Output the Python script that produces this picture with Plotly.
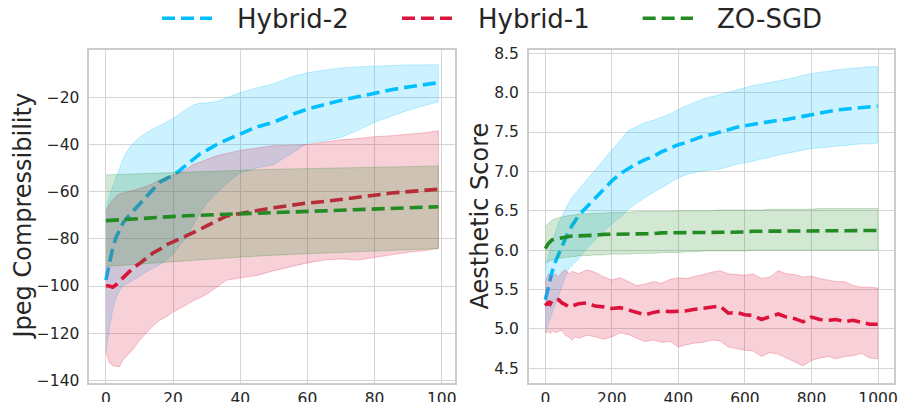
import plotly.graph_objects as go

# ---------------- data: left panel (Jpeg Compressibility) ----------------
x_left = [0, 1, 2, 3, 4, 5, 6, 8, 10, 12, 14, 16, 18, 20, 22, 24, 26, 28, 30, 33, 36, 40,
          45, 50, 55, 60, 65, 70, 75, 80, 85, 90, 95, 99]

h2_mean_l = [-97.5, -91, -84, -79.5, -76, -73.5, -71.5, -68.5, -65.5, -62, -59, -56, -54.5, -53,
             -51, -48.5, -46, -44, -42.5, -40, -38, -35.5, -32.5, -30.5, -27.5, -25, -23, -21.3,
             -19.8, -18.2, -16.8, -15.6, -14.6, -13.8]
h2_up_l = [-68, -62, -58, -54, -50, -46.5, -43.5, -39.5, -37, -35, -33.5, -32, -30.3, -29, -27,
           -25.2, -23.3, -22.4, -22.4, -21.8, -20.3, -18, -16, -14.2, -11.5, -9.6, -8.5, -7.6,
           -7.1, -6.7, -6.5, -6.3, -6.2, -6.2]
h2_lo_l = [-128, -118, -110, -105, -102, -100, -99, -97.5, -96, -94, -92.5, -91, -89, -86.5,
           -82.5, -79.5, -74, -69, -65, -60.5, -56.5, -52, -50, -48.5, -44, -39.5, -38.5, -37,
           -34, -30.6, -28, -25.5, -23.5, -21.9]

h1_mean_l = [-99.9, -100, -100.5, -99.5, -98, -96.5, -95, -92.5, -90.5, -88, -86, -84.5, -82.5,
             -81.3, -80, -79, -77.5, -76, -74.5, -72.3, -70.3, -69.3, -68, -66.8, -65.8, -64.8,
             -64.2, -63.3, -62.5, -61.4, -60.6, -60, -59.5, -59]
h1_up_l = [-69.2, -65.6, -63.5, -62, -61, -60.5, -60.2, -59.5, -58.7, -57.8, -56.5, -55, -53.8,
           -53, -52, -50.5, -48.5, -47.5, -46.5, -44.8, -43.8, -42.5, -41.5, -40.5, -40.4, -40,
           -39, -38, -37.5, -36.7, -36.3, -35.8, -35, -34.2]
h1_lo_l = [-127.9, -132.5, -133.8, -134, -134.2, -131.5, -130, -127, -123, -119.8, -117, -114.5,
           -113, -111, -109.5, -108, -106.3, -105, -103.5, -100.5, -97.5, -96.5, -95.5, -93.5,
           -91.8, -90.2, -89, -88.5, -89, -88, -86.8, -85.7, -85, -84.1]

zo_mean_l = [-72.3, -72.2, -72.1, -72, -71.9, -71.8, -71.7, -71.5, -71.3, -71.1, -71, -70.8,
             -70.7, -70.5, -70.4, -70.2, -70.1, -70, -69.9, -69.7, -69.5, -69.3, -69, -68.8,
             -68.5, -68.2, -67.9, -67.6, -67.4, -67.1, -66.9, -66.7, -66.5, -66.4]
zo_up_l = [-52.9, -52.8, -52.8, -52.7, -52.7, -52.6, -52.6, -52.5, -52.4, -52.3, -52.2, -52.1,
           -52, -51.9, -51.8, -51.7, -51.6, -51.5, -51.4, -51.2, -51.1, -50.9, -50.7, -50.5,
           -50.4, -50.2, -50.1, -50, -49.8, -49.7, -49.5, -49.4, -49.2, -49.1]
zo_lo_l = [-91.7, -91.6, -91.5, -91.4, -91.3, -91.2, -91.1, -90.9, -90.7, -90.5, -90.3, -90.1,
           -89.9, -89.7, -89.5, -89.3, -89.1, -88.9, -88.7, -88.4, -88.1, -87.7, -87.3, -86.9,
           -86.6, -86.3, -86, -85.7, -85.4, -85.1, -84.8, -84.5, -84.3, -84.1]

# ---------------- data: right panel (Aesthetic Score) ----------------
x_right = [0, 5, 10, 15, 20, 30, 40, 50, 60, 70, 80, 90, 100, 125, 150, 175, 200, 225, 250, 275,
           300, 325, 350, 375, 400, 425, 450, 475, 500, 525, 550, 575, 600, 625, 650, 675, 700,
           725, 750, 775, 800, 825, 850, 875, 900, 925, 950, 975, 999]

h2_mean_r = [5.37, 5.47, 5.56, 5.65, 5.72, 5.85, 5.95, 6.05, 6.14, 6.24, 6.31, 6.38, 6.44,
             6.55, 6.66, 6.78, 6.88, 6.97, 7.04, 7.10, 7.15, 7.19, 7.25, 7.30, 7.34, 7.37, 7.41,
             7.45, 7.47, 7.50, 7.54, 7.56, 7.58, 7.60, 7.62, 7.64, 7.65, 7.66, 7.68, 7.71, 7.73,
             7.74, 7.76, 7.78, 7.79, 7.80, 7.81, 7.82, 7.83]
h2_up_r = [5.75, 5.85, 5.95, 6.05, 6.12, 6.22, 6.35, 6.43, 6.52, 6.60, 6.67, 6.72, 6.78,
           6.90, 7.03, 7.15, 7.28, 7.40, 7.52, 7.57, 7.62, 7.65, 7.69, 7.73, 7.79, 7.84, 7.88,
           7.92, 7.95, 7.98, 8.01, 8.04, 8.07, 8.09, 8.11, 8.13, 8.15, 8.17, 8.19, 8.22, 8.24,
           8.26, 8.27, 8.29, 8.30, 8.31, 8.32, 8.33, 8.33]
h2_lo_r = [4.96, 5.02, 5.08, 5.14, 5.20, 5.32, 5.44, 5.55, 5.66, 5.76, 5.81, 5.85, 5.89,
           6.02, 6.13, 6.24, 6.33, 6.42, 6.52, 6.60, 6.67, 6.74, 6.80, 6.86, 6.92, 6.96, 6.99,
           7.01, 7.02, 7.03, 7.06, 7.09, 7.11, 7.13, 7.16, 7.18, 7.21, 7.23, 7.25, 7.27, 7.29,
           7.30, 7.31, 7.32, 7.33, 7.34, 7.35, 7.35, 7.36]

h1_mean_r = [5.33, 5.30, 5.35, 5.32, 5.36, 5.35, 5.37, 5.33, 5.31, 5.28, 5.29, 5.31, 5.32,
             5.33, 5.29, 5.28, 5.26, 5.27, 5.24, 5.22, 5.18, 5.21, 5.23, 5.22, 5.22, 5.23, 5.25,
             5.26, 5.27, 5.29, 5.20, 5.21, 5.18, 5.17, 5.12, 5.16, 5.19, 5.15, 5.13, 5.09, 5.15,
             5.12, 5.11, 5.12, 5.09, 5.11, 5.09, 5.06, 5.06]
h1_up_r = [5.60, 5.65, 5.70, 5.68, 5.66, 5.70, 5.66, 5.72, 5.75, 5.70, 5.73, 5.72, 5.70,
           5.75, 5.72, 5.66, 5.62, 5.65, 5.60, 5.55, 5.57, 5.60, 5.58, 5.63, 5.65, 5.64, 5.67,
           5.69, 5.72, 5.74, 5.70, 5.69, 5.68, 5.70, 5.64, 5.66, 5.74, 5.70, 5.69, 5.66, 5.67,
           5.64, 5.62, 5.60, 5.60, 5.55, 5.53, 5.53, 5.52]
h1_lo_r = [4.96, 4.95, 4.97, 4.94, 4.98, 4.95, 4.97, 4.98, 4.92, 4.90, 4.86, 4.90, 4.88,
           4.92, 4.90, 4.87, 4.90, 4.95, 4.93, 4.88, 4.84, 4.86, 4.83, 4.84, 4.77, 4.80, 4.82,
           4.83, 4.86, 4.85, 4.77, 4.75, 4.73, 4.72, 4.65, 4.70, 4.68, 4.62, 4.58, 4.53, 4.60,
           4.63, 4.65, 4.62, 4.65, 4.66, 4.69, 4.63, 4.62]

zo_mean_r = [6.02, 6.06, 6.09, 6.11, 6.13, 6.14, 6.15, 6.16, 6.17, 6.17, 6.18, 6.18, 6.18,
             6.19, 6.19, 6.20, 6.20, 6.20, 6.21, 6.21, 6.21, 6.21, 6.22, 6.22, 6.22, 6.22, 6.22,
             6.23, 6.23, 6.23, 6.23, 6.23, 6.23, 6.24, 6.24, 6.24, 6.24, 6.24, 6.24, 6.24, 6.25,
             6.25, 6.25, 6.25, 6.25, 6.25, 6.25, 6.25, 6.25]
zo_up_r = [6.30, 6.32, 6.34, 6.36, 6.38, 6.40, 6.41, 6.42, 6.43, 6.44, 6.44, 6.45, 6.46,
           6.46, 6.47, 6.47, 6.48, 6.48, 6.48, 6.49, 6.49, 6.49, 6.49, 6.49, 6.50, 6.50, 6.50,
           6.50, 6.50, 6.51, 6.51, 6.51, 6.51, 6.51, 6.51, 6.52, 6.52, 6.52, 6.52, 6.52, 6.52,
           6.53, 6.53, 6.53, 6.53, 6.53, 6.53, 6.53, 6.53]
zo_lo_r = [5.83, 5.85, 5.86, 5.87, 5.88, 5.89, 5.90, 5.90, 5.91, 5.91, 5.92, 5.92, 5.93,
           5.93, 5.94, 5.94, 5.95, 5.95, 5.95, 5.96, 5.96, 5.96, 5.97, 5.97, 5.97, 5.98, 5.98,
           5.99, 5.99, 5.99, 5.99, 5.99, 5.99, 6.00, 6.00, 6.00, 6.00, 6.00, 6.00, 6.00, 6.00,
           6.00, 6.00, 6.00, 6.00, 6.00, 6.00, 6.00, 6.00]

series_names = ["Hybrid-2", "Hybrid-1", "ZO-SGD"]
left_ticks_x = [0, 20, 40, 60, 80, 100]
left_ticks_y = [-140, -120, -100, -80, -60, -40, -20]
right_ticks_x = [0, 200, 400, 600, 800, 1000]
right_ticks_y = [4.5, 5.0, 5.5, 6.0, 6.5, 7.0, 7.5, 8.0, 8.5]

# ---------------- styling ----------------
W, H = 900, 402
FONT = "DejaVu Sans"
TXT = "#262626"
colors = {"Hybrid-2": (0, 191, 255), "Hybrid-1": (220, 20, 60), "ZO-SGD": (34, 139, 34)}
DASH = "13px,6px"
LW = 3.6


def rgba(c, a):
    return f"rgba({c[0]},{c[1]},{c[2]},{a})"


fig = go.Figure()

panels = [
    ("x", "y", x_left, [(h2_mean_l, h2_up_l, h2_lo_l), (h1_mean_l, h1_up_l, h1_lo_l),
                        (zo_mean_l, zo_up_l, zo_lo_l)]),
    ("x2", "y2", x_right, [(h2_mean_r, h2_up_r, h2_lo_r), (h1_mean_r, h1_up_r, h1_lo_r),
                           (zo_mean_r, zo_up_r, zo_lo_r)]),
]

for xa, ya, xs, data in panels:
    for name, (mean, up, lo) in zip(series_names, data):
        c = colors[name]
        fig.add_trace(go.Scatter(
            x=list(xs) + list(xs)[::-1], y=list(up) + list(lo)[::-1],
            fill="toself", fillcolor=rgba(c, 0.2),
            line=dict(color=rgba(c, 0.3), width=0.8),
            mode="lines", xaxis=xa, yaxis=ya, showlegend=False, hoverinfo="skip"))
        fig.add_trace(go.Scatter(
            x=xs, y=mean, mode="lines", name=name,
            line=dict(color=rgba(c, 1), width=LW, dash=DASH),
            xaxis=xa, yaxis=ya, showlegend=False))

# plot-area geometry (pixels)
L1, R1 = 89.3, 455.0
L2, R2 = 528.7, 894.3
TOP, BOT = 50.0, 382.7

common_axis = dict(
    showgrid=True, gridcolor="#d5d5d5", gridwidth=1.2,
    showline=True, linecolor="#cccccc", linewidth=1.6, mirror=True,
    ticks="", zeroline=False, automargin=False,
    tickfont=dict(family=FONT, size=15.5, color=TXT),
)

fig.update_layout(
    width=W, height=H,
    margin=dict(l=0, r=0, t=0, b=0, autoexpand=False),
    paper_bgcolor="white", plot_bgcolor="white",
    showlegend=False,
    xaxis=dict(domain=[L1 / W, R1 / W], range=[-4.95, 103.95], tickvals=left_ticks_x,
               anchor="y", ticklabelstandoff=1, **common_axis),
    yaxis=dict(domain=[(H - BOT) / H, (H - TOP) / H], range=[-141.0, 0.06],
               tickvals=left_ticks_y, anchor="x", ticklabelstandoff=5, **common_axis),
    xaxis2=dict(domain=[L2 / W, R2 / W], range=[-49.95, 1048.95], tickvals=right_ticks_x,
                anchor="y2", ticklabelstandoff=1, **common_axis),
    yaxis2=dict(domain=[(H - BOT) / H, (H - TOP) / H], range=[4.317, 8.542],
                tickvals=right_ticks_y, tickformat=".1f", anchor="x2", ticklabelstandoff=5,
                **common_axis),
)

# axis titles
fig.add_annotation(text="Jpeg Compressibility", textangle=-90, x=22 / W, y=1 - 216.5 / H,
                   xref="paper", yref="paper", showarrow=False, xanchor="center",
                   yanchor="middle", font=dict(family=FONT, size=24, color=TXT))
fig.add_annotation(text="Aesthetic Score", textangle=-90, x=479 / W, y=1 - 216.5 / H,
                   xref="paper", yref="paper", showarrow=False, xanchor="center",
                   yanchor="middle", font=dict(family=FONT, size=24, color=TXT))

# legend (drawn manually at the top)
leg_line_x = [(162, 212), (402, 452), (642.7, 693)]
leg_text_x = [236, 476.7, 716]
LEG_Y = 18.3
for name, (a, b), tx in zip(series_names, leg_line_x, leg_text_x):
    c = colors[name]
    fig.add_shape(type="line", xref="paper", yref="paper", x0=a / W, x1=b / W,
                  y0=1 - LEG_Y / H, y1=1 - LEG_Y / H,
                  line=dict(color=rgba(c, 1), width=LW, dash=DASH))
    fig.add_annotation(text=name, x=tx / W, y=1 - 18.5 / H, xref="paper", yref="paper",
                       showarrow=False, xanchor="left", yanchor="middle", borderpad=0,
                       font=dict(family=FONT, size=26, color=TXT))

fig.write_html("out.html")
